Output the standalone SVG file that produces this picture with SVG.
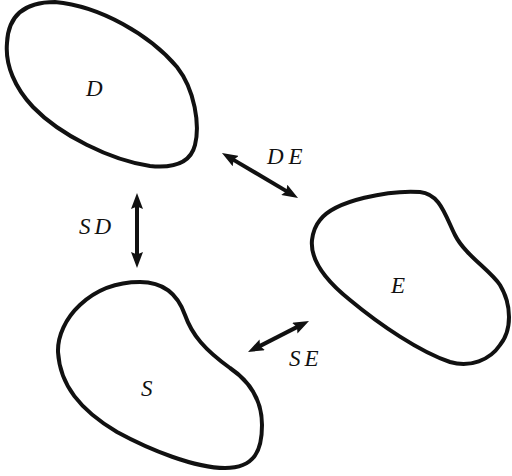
<svg xmlns="http://www.w3.org/2000/svg" width="512" height="476" viewBox="0 0 512 476">
<style>
.blob{fill:none;stroke:#111;stroke-width:4;stroke-linejoin:round}
.conn{stroke:#111;stroke-width:4;fill:none}
.lbl{font-family:"Liberation Serif","Times New Roman",serif;font-style:italic;font-size:23px;fill:#111}
</style>
<defs>
<marker id="ah" viewBox="0 0 16 12" markerWidth="16" markerHeight="12" refX="4" refY="6" orient="auto-start-reverse" markerUnits="userSpaceOnUse">
<path d="M0,0 L16,6 L0,12 L2.5,6 Z" fill="#111"/>
</marker>
</defs>
<rect width="512" height="476" fill="#fff"/>
<g id="D">
<path class="blob" d="M 55,2 C 100,6 150,35 177,67 C 195,90 200,125 195,145 C 190,165 170,168 150,166 C 110,160 60,135 33,107 C 15,88 5,65 7,43 C 8,20 20,2 55,2 Z"/>
<text class="lbl" x="86" y="96">D</text>
</g>
<g id="E">
<path class="blob" d="M 320,220 C 335,200 390,190 420,192 C 440,194 445,215 455,235 C 465,255 490,270 500,285 C 512,305 512,330 500,345 C 490,360 470,368 450,362 C 420,352 380,325 350,300 C 325,280 310,260 312,240 C 313,232 315,226 320,220 Z"/>
<text class="lbl" x="391" y="293">E</text>
</g>
<g id="S">
<path class="blob" d="M 140,282 C 165,282 178,295 185,315 C 192,335 205,350 230,368 C 255,385 262,405 262,425 C 262,450 255,468 225,468 C 195,468 150,450 117,432 C 80,410 60,385 58,352 C 57,320 90,282 140,282 Z"/>
<text class="lbl" x="141" y="396">S</text>
</g>
<g id="connectors">
<line class="conn" x1="232.3" y1="159.1" x2="287.7" y2="191.9" marker-start="url(#ah)" marker-end="url(#ah)"/>
<line class="conn" x1="137" y1="205" x2="137" y2="256" marker-start="url(#ah)" marker-end="url(#ah)"/>
<line class="conn" x1="258.7" y1="346.6" x2="298.3" y2="326.4" marker-start="url(#ah)" marker-end="url(#ah)"/>
<text class="lbl" x="267" y="164" letter-spacing="5">DE</text>
<text class="lbl" x="79" y="234" letter-spacing="4">SD</text>
<text class="lbl" x="289" y="366" letter-spacing="4">SE</text>
</g>
</svg>
